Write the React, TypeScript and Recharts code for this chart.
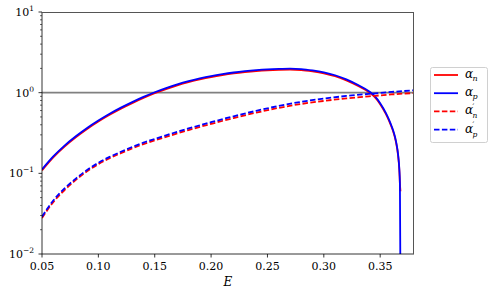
import React from "react";
import {
  LineChart,
  Line,
  XAxis,
  YAxis,
  ReferenceLine,
} from "recharts";

// energies for the solid curves
const E_SOLID = [
  0.05, 0.06, 0.07, 0.08, 0.09, 0.1, 0.11, 0.12, 0.13, 0.14, 0.15, 0.16, 0.17,
  0.18, 0.19, 0.2, 0.21, 0.22, 0.23, 0.24, 0.25, 0.26, 0.27, 0.28, 0.29, 0.3,
  0.31, 0.32, 0.33, 0.34, 0.345, 0.35, 0.355, 0.358, 0.36, 0.362, 0.364, 0.366,
  0.367, 0.3675, 0.368,
];
const ALPHA_N = [
  0.109, 0.158, 0.215, 0.28, 0.355, 0.439, 0.532, 0.634, 0.743, 0.861, 0.985,
  1.109, 1.234, 1.352, 1.462, 1.563, 1.652, 1.73, 1.795, 1.85, 1.892, 1.919,
  1.932, 1.91, 1.837, 1.738, 1.6, 1.423, 1.219, 1.014, 0.887, 0.721, 0.547,
  0.445, 0.378, 0.315, 0.244, 0.161, 0.109, 0.074, 0.06,
];
const ALPHA_P = [
  0.112, 0.162, 0.221, 0.288, 0.365, 0.451, 0.547, 0.652, 0.764, 0.885, 1.012,
  1.14, 1.268, 1.39, 1.503, 1.607, 1.698, 1.778, 1.845, 1.901, 1.945, 1.972,
  1.986, 1.963, 1.888, 1.786, 1.644, 1.462, 1.253, 1.042, 0.912, 0.741, 0.562,
  0.457, 0.389, 0.324, 0.251, 0.166, 0.112, 0.076, 0.004,
];

// energies for the dashed curves
const E_DASH = [
  0.05, 0.06, 0.07, 0.08, 0.09, 0.1, 0.11, 0.12, 0.13, 0.14, 0.15, 0.16, 0.18,
  0.2, 0.22, 0.24, 0.26, 0.28, 0.3, 0.32, 0.34, 0.36, 0.38,
];
const ALPHA_N_PRIME = [
  0.028, 0.044, 0.062, 0.083, 0.106, 0.13, 0.154, 0.178, 0.204, 0.23, 0.256,
  0.283, 0.344, 0.41, 0.485, 0.565, 0.648, 0.725, 0.79, 0.85, 0.9, 0.95, 0.99,
];
const ALPHA_P_PRIME = [
  0.029, 0.046, 0.065, 0.086, 0.11, 0.135, 0.16, 0.185, 0.212, 0.24, 0.267,
  0.296, 0.36, 0.43, 0.51, 0.595, 0.685, 0.77, 0.845, 0.91, 0.965, 1.02, 1.07,
];

const X_TICKS = [0.05, 0.1, 0.15, 0.2, 0.25, 0.3, 0.35];
const Y_MAJOR = [0.01, 0.1, 1, 10];
const Y_MINOR = [
  0.02, 0.03, 0.04, 0.05, 0.06, 0.07, 0.08, 0.09, 0.2, 0.3, 0.4, 0.5, 0.6, 0.7,
  0.8, 0.9, 2, 3, 4, 5, 6, 7, 8, 9,
];
const Y_EXP: Record<string, string> = { "0.01": "−2", "0.1": "−1", "1": "0", "10": "1" };

const FONT = "'DejaVu Serif', serif";
const DASH = "5.5 2.4";

const toRows = (xs: number[], ys: number[]) => xs.map((x, i) => ({ x, y: ys[i] }));

function XTick({ x, y, payload }: any) {
  return (
    <g>
      <line x1={x} x2={x} y1={y} y2={y + 3.5} stroke="#000" strokeWidth={0.8} />
      <text x={x} y={y + 16} textAnchor="middle" fontSize={11} fontFamily={FONT} fill="#000">
        {payload.value.toFixed(2)}
      </text>
    </g>
  );
}

function YTick({ x, y, payload }: any) {
  const exp = Y_EXP[String(payload.value)];
  if (exp === undefined) {
    return <line x1={x - 2} x2={x} y1={y} y2={y} stroke="#000" strokeWidth={0.6} />;
  }
  return (
    <g>
      <line x1={x - 3.5} x2={x} y1={y} y2={y} stroke="#000" strokeWidth={0.8} />
      <text x={x - 8} y={y + 4} textAnchor="end" fontSize={11} fontFamily={FONT} fill="#000">
        10
        <tspan dy={-5} fontSize={7.5}>{exp}</tspan>
      </text>
    </g>
  );
}

const LEGEND = [
  { color: "#ff0000", dash: undefined, sub: "n", prime: false },
  { color: "#0000ff", dash: undefined, sub: "p", prime: false },
  { color: "#ff0000", dash: DASH, sub: "n", prime: true },
  { color: "#0000ff", dash: DASH, sub: "p", prime: true },
];

function LegendBox() {
  return (
    <svg width={58} height={76} style={{ position: "absolute", left: 430, top: 67 }}>
      <rect x={0.5} y={0.5} width={57} height={75} rx={2} fill="#fff" stroke="#d0d0d0" />
      {LEGEND.map((d, i) => {
        const cy = 8 + i * 18.2;
        const style = { fontStyle: "italic", fontFamily: FONT, fill: "#000" };
        return (
          <g key={i}>
            <line x1={4} x2={28} y1={cy} y2={cy} stroke={d.color} strokeWidth={1.8} strokeDasharray={d.dash} />
            <text x={35} y={cy + 3} fontSize={12} style={style}>α</text>
            {d.prime && (
              <text x={42.5} y={cy - 2.5} fontSize={7.5} style={style}>′</text>
            )}
            <text x={42.5} y={d.prime ? cy + 7 : cy + 6} fontSize={d.prime ? 7.5 : 8} style={style}>{d.sub}</text>
          </g>
        );
      })}
    </svg>
  );
}

export default function App() {
  return (
    <div style={{ position: "absolute", left: 0, top: 0, width: 492, height: 296, background: "#fff" }}>
      <LineChart width={492} height={296} margin={{ top: 12, right: 78, bottom: 0, left: 0 }}>
        <XAxis
          dataKey="x"
          type="number"
          domain={[0.05, 0.38]}
          ticks={X_TICKS}
          allowDataOverflow
          height={42}
          tickSize={0}
          tickMargin={0}
          interval={0}
          tick={<XTick />}
          axisLine={{ stroke: "#000", strokeWidth: 0.8 }}
          label={{ value: "E", position: "insideBottom", offset: 10, style: { fontFamily: FONT, fontStyle: "italic", fontSize: 12, fill: "#000" } }}
        />
        <YAxis
          type="number"
          scale="log"
          domain={[0.01, 10]}
          ticks={[...Y_MAJOR, ...Y_MINOR]}
          allowDataOverflow
          width={42}
          tickSize={0}
          tickMargin={0}
          interval={0}
          tick={<YTick />}
          axisLine={{ stroke: "#000", strokeWidth: 0.8 }}
        />
        <ReferenceLine y={1} stroke="#808080" strokeWidth={1.8} />
        <Line data={toRows(E_SOLID, ALPHA_N)} dataKey="y" type="monotone" stroke="#ff0000" strokeWidth={1.8} dot={false} isAnimationActive={false} />
        <Line data={toRows(E_SOLID, ALPHA_P)} dataKey="y" type="monotone" stroke="#0000ff" strokeWidth={1.8} dot={false} isAnimationActive={false} />
        <Line data={toRows(E_DASH, ALPHA_N_PRIME)} dataKey="y" type="monotone" stroke="#ff0000" strokeWidth={1.8} strokeDasharray={DASH} dot={false} isAnimationActive={false} />
        <Line data={toRows(E_DASH, ALPHA_P_PRIME)} dataKey="y" type="monotone" stroke="#0000ff" strokeWidth={1.8} strokeDasharray={DASH} dot={false} isAnimationActive={false} />
      </LineChart>
      <LegendBox />
      {/* top and right spines */}
      <div
        style={{
          position: "absolute",
          left: 42,
          top: 12,
          width: 372,
          height: 242,
          borderTop: "1px solid #555",
          borderRight: "1px solid #555",
          boxSizing: "border-box",
          pointerEvents: "none",
        }}
      />
    </div>
  );
}
